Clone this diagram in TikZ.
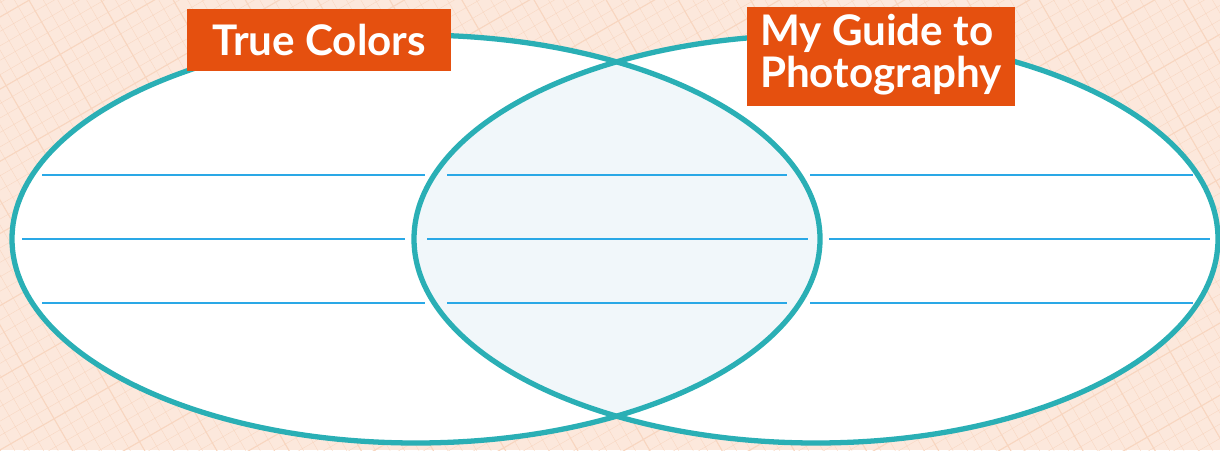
\documentclass[tikz,border=0pt]{standalone}
\usepackage{fontspec}
\setsansfont{Lato}
\definecolor{paper}{HTML}{FCE8DC}
\definecolor{gridline}{HTML}{F8D6C0}
\definecolor{ring}{HTML}{2AAFB5}
\definecolor{rule}{HTML}{2AA8E6}
\definecolor{overlap}{HTML}{F1F7FA}
\definecolor{tag}{HTML}{E5500F}
\tikzset{
  ring/.style={draw=ring, line width=3pt},
  writeline/.style={draw=rule, line width=1.6pt},
  tagbox/.style={fill=tag, text=white, inner sep=0pt, align=left,
    font=\sffamily\bfseries\fontsize{24}{26}\selectfont}
}
\begin{document}
\begin{tikzpicture}
% Background paper with grid
\fill[paper] (0,0) rectangle (24.4,9);
\useasboundingbox (0,0) rectangle (24.4,9);
\begin{scope}
\clip (0,0) rectangle (24.4,9);
\begin{scope}[rotate=30]
\draw[gridline, line width=0.2pt, step=0.25] (-10,-20) grid (35,20);
\draw[gridline, line width=0.6pt, step=1.25] (-10,-20) grid (35,20);
\end{scope}
\end{scope}

% Circles
\fill[white] (8.32,4.22) ellipse [x radius=8.08, y radius=4.08];
\fill[white] (16.32,4.22) ellipse [x radius=8.04, y radius=4.08];
\begin{scope}
\clip (8.32,4.22) ellipse [x radius=8.08, y radius=4.08];
\fill[overlap] (16.32,4.22) ellipse [x radius=8.04, y radius=4.08];
\end{scope}
\draw[ring] (8.32,4.22) ellipse [x radius=8.08, y radius=4.08];
\draw[ring] (16.32,4.22) ellipse [x radius=8.04, y radius=4.08];

% Writing lines
\foreach \y/\a/\b/\c/\d/\e/\f in {5.5/0.84/8.5/8.94/15.74/16.2/23.86,
    4.22/0.44/8.1/8.54/16.16/16.58/24.2,
    2.94/0.84/8.5/8.94/15.74/16.2/23.86} {
  \draw[writeline] (\a,\y) -- (\b,\y);
  \draw[writeline] (\c,\y) -- (\d,\y);
  \draw[writeline] (\e,\y) -- (\f,\y);
}

% Titles
\node[tagbox, minimum width=5.28cm, minimum height=1.24cm, align=center] (left) at (6.38,8.2) {True Colors};
\node[tagbox, minimum width=5.36cm, minimum height=1.98cm] (right) at (17.62,7.86)
  {\begin{tabular}{@{}l@{}}My Guide to\\[-2pt] Photography\end{tabular}};
\end{tikzpicture}
\end{document}
